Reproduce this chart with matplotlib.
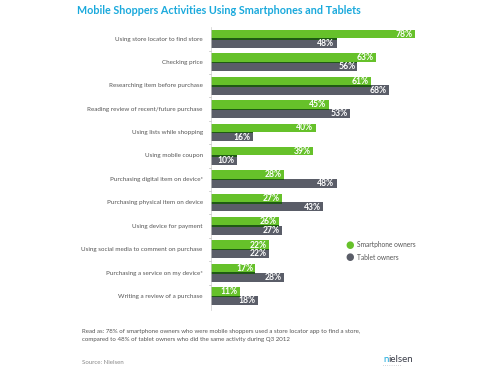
import matplotlib
matplotlib.use("Agg")
import matplotlib.pyplot as plt
import numpy as np

# data
activities = [
    "Using store locator to find store",
    "Checking price",
    "Researching item before purchase",
    "Reading review of recent/future purchase",
    "Using lists while shopping",
    "Using mobile coupon",
    "Purchasing digital item on device*",
    "Purchasing physical item on device",
    "Using device for payment",
    "Using social media to comment on purchase",
    "Purchasing a service on my device*",
    "Writing a review of a purchase",
]
smartphone = [78, 63, 61, 45, 40, 39, 28, 27, 26, 22, 17, 11]
tablet = [48, 56, 68, 53, 16, 10, 48, 43, 27, 22, 28, 18]

green = "#66c12a"
gray = "#5a5d68"
shadow = "#1f5a14"
cyan = "#1aa9dc"
text_gray = "#555555"

plt.rcParams["font.family"] = ["Lato", "DejaVu Sans"]

W, H = 500, 370
fig = plt.figure(figsize=(5, 3.7), dpi=100)
fig.patch.set_facecolor("white")

# axes placed in pixel units: x 211 -> 472 for 0..100 %, y 27 -> 310
ax = fig.add_axes([211 / W, 1 - 310 / H, 261.5 / W, 283 / H])
ax.set_xlim(0, 100)
ax.set_ylim(310, 27)

pitch = 23.4
centers = 38.5 + pitch * np.arange(len(activities))

ax.barh(centers - 4.3, smartphone, height=8.6, color=green, linewidth=0)
ax.barh(centers + 4.6, tablet, height=9.2, color=gray, linewidth=0)
ax.barh(centers + 0.6, np.minimum(smartphone, tablet), height=1.6, color=shadow, linewidth=0)

for c, s, t in zip(centers, smartphone, tablet):
    ax.text(s - 0.8, c - 4.1, f"{s}%", color="white", fontsize=6.2, fontweight="bold",
            ha="right", va="center")
    ax.text(t - 0.8, c + 4.9, f"{t}%", color="white", fontsize=6.2, fontweight="bold",
            ha="right", va="center")

ax.set_yticks(centers)
ax.set_yticklabels(activities, fontsize=4.5, color=text_gray)
ax.tick_params(axis="y", length=0, pad=6)
ax.set_xticks([])
# small separator ticks on the axis
for b in centers[:-1] + pitch / 2 + 0.3:
    ax.plot([-0.8, 0], [b, b], color="#bbbbbb", lw=0.5, clip_on=False)
for side in ["top", "right", "bottom"]:
    ax.spines[side].set_visible(False)
ax.spines["left"].set_color("#cccccc")
ax.spines["left"].set_linewidth(0.5)

# title
fig.text(77 / W, 1 - 11 / H, "Mobile Shoppers Activities Using Smartphones and Tablets",
         color=cyan, fontsize=7.75, fontweight="bold", va="center", ha="left")

# legend
fig.text(350 / W, 1 - 245 / H, "\u25cf", color=green, fontsize=7, ha="center", va="center",
         family="DejaVu Sans")
fig.text(350 / W, 1 - 257 / H, "\u25cf", color=gray, fontsize=7, ha="center", va="center",
         family="DejaVu Sans")
fig.text(357 / W, 1 - 245 / H, "Smartphone owners", color=text_gray, fontsize=4.8, va="center")
fig.text(357 / W, 1 - 257 / H, "Tablet owners", color=text_gray, fontsize=4.8, va="center")

# footnote
fig.text(82 / W, 1 - 331 / H,
         "Read as: 78% of smartphone owners who were mobile shoppers used a store locator app to find a store,",
         color=text_gray, fontsize=4.4, va="center")
fig.text(82 / W, 1 - 339 / H,
         "compared to 48% of tablet owners who did the same activity during Q3 2012",
         color=text_gray, fontsize=4.4, va="center")
fig.text(82 / W, 1 - 362 / H, "Source: Nielsen", color="#888888", fontsize=4.4, va="center")

# nielsen logo
fig.text(383 / W, 1 - 359 / H, "n", color=cyan, fontsize=7, va="center")
fig.text(388.5 / W, 1 - 359 / H, "ielsen", color="#3c3f4a", fontsize=7, va="center")
fig.text(383 / W, 1 - 366 / H, "\u00b7 " * 9, color="#6a6d78", fontsize=3, va="center")

fig.savefig("out.png", dpi=100, facecolor="white")
